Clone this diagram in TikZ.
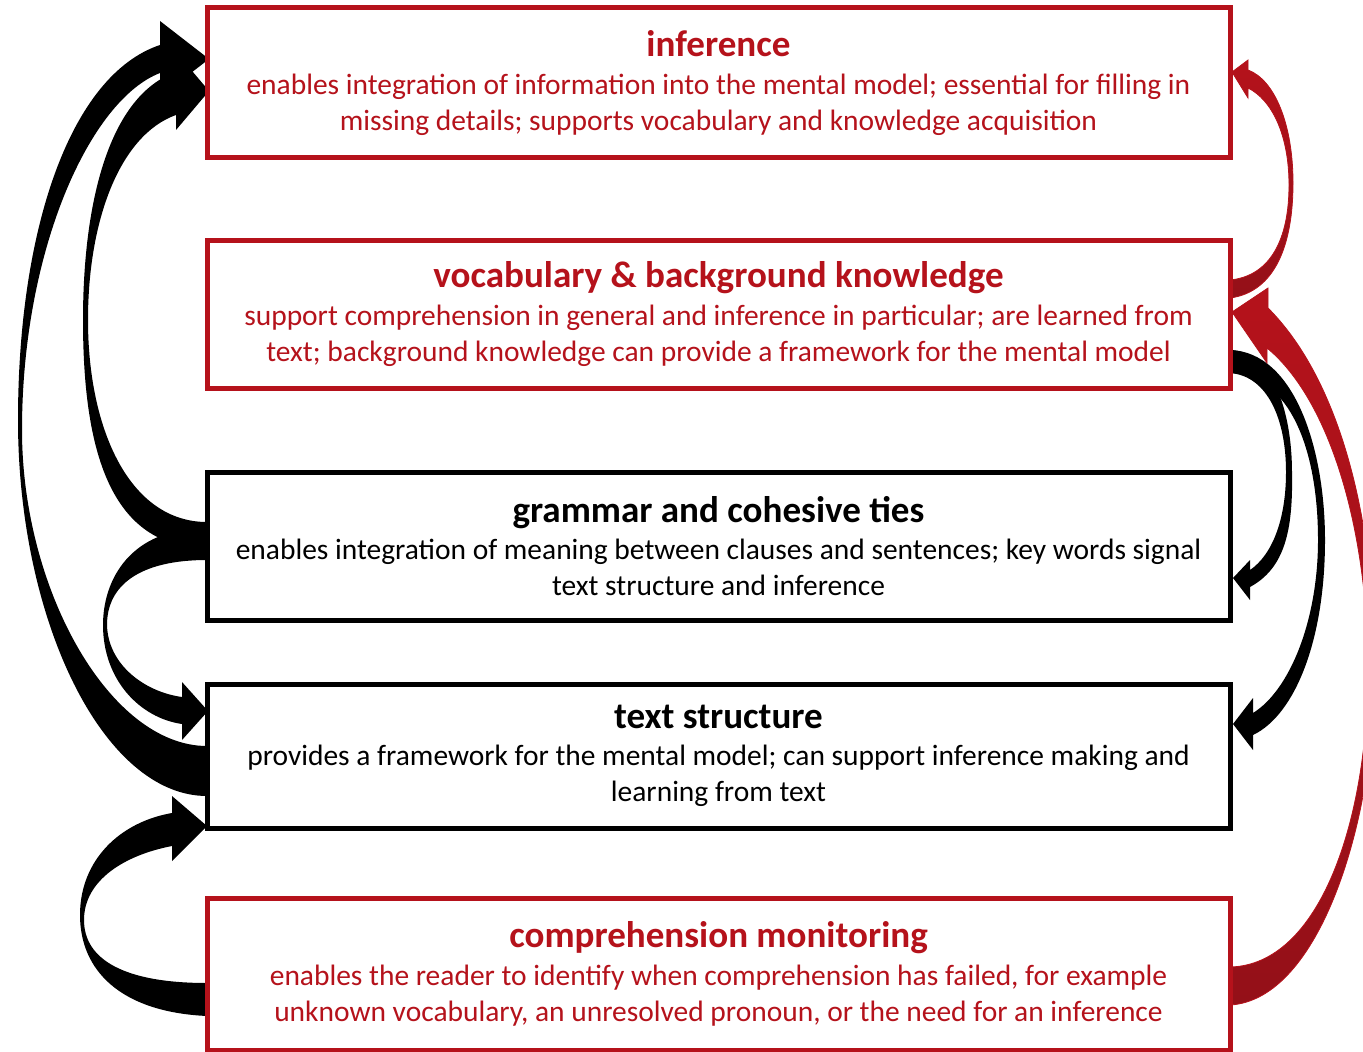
\documentclass[tikz,border=0pt]{standalone}
\usepackage{fontspec}
\setmainfont{Carlito}
\usetikzlibrary{calc,backgrounds}
\definecolor{boxred}{RGB}{181,18,27}
\definecolor{arrowdark}{RGB}{148,16,24}
\providecommand{\heading}[1]{{\fontsize{27.8}{33}\selectfont\bfseries #1}}
\tikzset{
  box/.style={draw, line width=3.75pt, fill=white, minimum width=767.25pt,
    inner sep=0pt, outer sep=0pt, align=center, font=\fontsize{22.1}{27}\selectfont},
  redbox/.style={box, draw=boxred, text=boxred},
  blackbox/.style={box, draw=black, text=black},
  blackarrow/.style={fill=black},
  redarrow/.style={draw=boxred, line width=0.6pt, top color=boxred, bottom color=arrowdark}
}

\begin{document}
\begin{tikzpicture}[x=0.75pt,y=-0.75pt]
  \useasboundingbox (0,0) rectangle (1363,1052);
  \node[redbox, minimum height=112.5pt] (inf) at (718.5,83)
    {\heading{inference}\\[1pt]
     enables integration of information into the mental model; essential for filling in\\
     missing details; supports vocabulary and knowledge acquisition};
  \node[redbox, minimum height=111pt] (voc) at (718.5,314)
    {\heading{vocabulary \& background knowledge}\\[1pt]
     support comprehension in general and inference in particular; are learned from\\
     text; background knowledge can provide a framework for the mental model};
  \node[blackbox, minimum height=111pt] (gram) at (718.5,546)
    {\heading{grammar and cohesive ties}\\[1pt]
     enables integration of meaning between clauses and sentences; key words signal\\
     text structure and inference};
  \node[blackbox, minimum height=108pt] (ts) at (718.5,756)
    {\heading{text structure}\\[1pt]
     provides a framework for the mental model; can support inference making and\\
     learning from text};
  \node[redbox, minimum height=114pt] (cm) at (718.5,974)
    {\heading{comprehension monitoring}\\[1pt]
     enables the reader to identify when comprehension has failed, for example\\
     unknown vocabulary, an unresolved pronoun, or the need for an inference};

  \begin{scope}[on background layer]
    \clip (0,0) rectangle (1363,1052);
    \fill[blackarrow] ($(ts.west)+(0,40)$) .. controls (103,796) and (18,620) .. (18,420)
      .. controls (18,230) and (70,75) .. (160,45) -- (160,21) -- ($(inf.west)+(2,-24)$)
      -- (160,97) -- (160,73) .. controls (90,100) and (22,250) .. (22,430)
      .. controls (22,590) and (110,746) .. ($(ts.west)+(0,-10)$) -- cycle;
    \fill[blackarrow] ($(gram.west)+(0,2)$) .. controls (110,548) and (83,450) .. (83,320)
      .. controls (83,200) and (110,95) .. (176,72) -- (176,52) -- ($(inf.west)+(2,8)$)
      -- (176,130) -- (176,115) .. controls (120,135) and (88,220) .. (88,320)
      .. controls (88,430) and (130,522) .. ($(gram.west)+(0,-24)$) -- cycle;
    \fill[blackarrow] ($(gram.west)+(0,-18)$) .. controls (130,528) and (103,580) .. (103,625)
      .. controls (103,680) and (140,718) .. (182,724) -- (182,740) -- ($(ts.west)+(1,-45)$)
      -- (182,682) -- (182,697) .. controls (145,692) and (108,665) .. (107,625)
      .. controls (107,585) and (140,560) .. ($(gram.west)+(0,14)$) -- cycle;
    \fill[blackarrow] ($(cm.west)+(0,42)$) .. controls (120,1012) and (80,970) .. (80,915)
      .. controls (80,860) and (120,822) .. (172,813) -- (172,796) -- ($(ts.west)+(0,70)$)
      -- (172,861) -- (172,846) .. controls (125,855) and (84,880) .. (84,920)
      .. controls (84,960) and (125,983) .. ($(cm.west)+(0,9)$) -- cycle;
    \shadedraw[redarrow] ($(voc.east)+(0,-16)$) .. controls (1275,292) and (1293,245) .. (1293,183)
      .. controls (1293,125) and (1275,80) .. (1248,70) -- (1248,60) -- ($(inf.east)+(2,-11)$)
      -- (1248,98) -- (1248,88) .. controls (1272,100) and (1289,135) .. (1289,185)
      .. controls (1289,240) and (1270,276) .. ($(voc.east)+(0,-34)$) -- cycle;
    \fill[blackarrow] ($(voc.east)+(0,36)$) .. controls (1272,352) and (1292,410) .. (1292,473)
      .. controls (1293,530) and (1285,568) .. (1250,587) -- (1250,600) -- ($(gram.east)+(3,32)$)
      -- (1250,560) -- (1250,570) .. controls (1272,555) and (1286,520) .. (1286,472)
      .. controls (1286,420) and (1268,376) .. ($(voc.east)+(0,59)$) -- cycle;
    \fill[blackarrow] ($(voc.east)+(0,36)$) .. controls (1295,352) and (1325,450) .. (1325,540)
      .. controls (1325,640) and (1295,715) .. (1253,735) -- (1253,750) -- ($(ts.east)+(3,-32)$)
      -- (1253,698) -- (1253,713) .. controls (1290,690) and (1318,620) .. (1318,540)
      .. controls (1318,450) and (1290,375) .. ($(voc.east)+(0,59)$) -- cycle;
    \shadedraw[redarrow] ($(cm.east)+(0,31)$) .. controls (1320,1000) and (1375,820) .. (1375,670)
      .. controls (1375,520) and (1340,380) .. (1268,308) -- (1268,288) -- ($(voc.east)+(2,-2)$)
      -- (1267,363) -- (1267,348) .. controls (1330,400) and (1368,530) .. (1368,670)
      .. controls (1368,820) and (1320,965) .. ($(cm.east)+(0,-7)$) -- cycle;
  \end{scope}
\end{tikzpicture}
\end{document}
